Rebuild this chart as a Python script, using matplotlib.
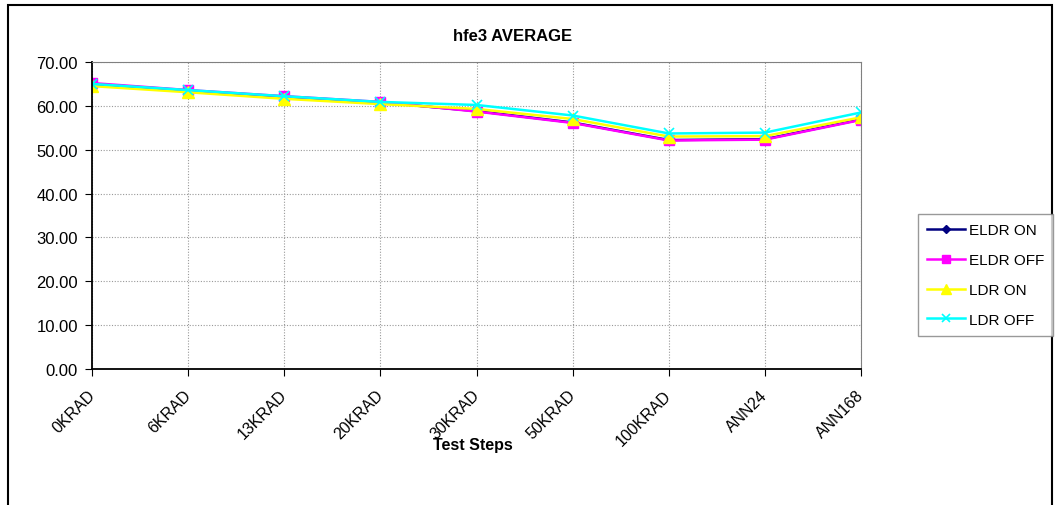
import matplotlib.pyplot as plt
from matplotlib.patches import Rectangle
from matplotlib.ticker import FormatStrFormatter
from matplotlib.transforms import ScaledTranslation

steps = ['0KRAD', '6KRAD', '13KRAD', '20KRAD', '30KRAD', '50KRAD', '100KRAD', 'ANN24', 'ANN168']
eldr_on = [65.0, 63.5, 62.1, 60.8, 58.8, 56.2, 52.2, 52.4, 56.9]
eldr_off = [65.2, 63.6, 62.2, 60.9, 58.7, 56.1, 52.1, 52.3, 56.8]
ldr_on = [64.5, 63.1, 61.6, 60.4, 59.3, 57.0, 53.0, 53.1, 57.4]
ldr_off = [65.0, 63.6, 62.2, 60.9, 60.2, 57.8, 53.7, 53.9, 58.5]

plt.rcParams['font.family'] = ['Liberation Sans', 'DejaVu Sans']

fig = plt.figure(figsize=(10.57, 5.06), dpi=100)
ax = fig.add_axes([0.087, 0.2688, 0.7277, 0.6067])

x = range(len(steps))
ax.plot(x, eldr_on, color='#000080', marker='D', markersize=5, lw=1.8, label='ELDR ON')
ax.plot(x, eldr_off, color='#ff00ff', marker='s', markersize=7, lw=1.8, label='ELDR OFF')
ax.plot(x, ldr_on, color='#ffff00', marker='^', markersize=8, lw=1.8, label='LDR ON')
ax.plot(x, ldr_off, color='#00ffff', marker='x', markersize=7, mew=1.2, lw=1.8, label='LDR OFF')

ax.set_xlim(0, len(steps) - 1)
ax.set_ylim(0, 70)
ax.set_yticks(range(0, 71, 10))
ax.yaxis.set_major_formatter(FormatStrFormatter('%.2f'))
ax.set_xticks(list(x))
ax.set_xticklabels([])
# rotated category labels, nudged to sit like the Excel ones
lab_tr = ax.get_xaxis_transform() + ScaledTranslation(-5 / 100, -18 / 100, fig.dpi_scale_trans)
for i, s in enumerate(steps):
    ax.text(i, 0, s, transform=lab_tr, rotation=45, ha='right', va='top',
            rotation_mode='anchor', fontsize=11.5)
ax.tick_params(axis='y', labelsize=12, length=5, direction='out', pad=5)
ax.tick_params(axis='x', length=5, direction='out')
ax.grid(True, color='#999999', linestyle=(0, (1, 1.5)), lw=0.8)
for s in ['top', 'right']:
    ax.spines[s].set_color('#808080')
for s in ['left', 'bottom']:
    ax.spines[s].set_color('black')
    ax.spines[s].set_linewidth(1.3)

fig.text(0.4853, 0.927, 'hfe3 AVERAGE', ha='center', va='center', fontsize=12, fontweight='bold')
fig.text(0.4475, 0.1186, 'Test Steps', ha='center', va='center', fontsize=11.5, fontweight='bold')

leg = fig.legend(loc='upper left', bbox_to_anchor=(918 / 1057, 1 - 215 / 506), fontsize=11,
                 frameon=True, fancybox=False, edgecolor='#808080', borderpad=0.62,
                 borderaxespad=0, labelspacing=1.03, handlelength=2.45, handletextpad=0.25,
                 markerscale=0.9)
leg.get_frame().set_linewidth(1.0)

fig.patches.append(Rectangle((8 / 1057, -0.1), 1044 / 1057, 1.1 - 6 / 506,
                             transform=fig.transFigure, fill=False, edgecolor='black', lw=1.5))

fig.savefig('out.png', dpi=100)
